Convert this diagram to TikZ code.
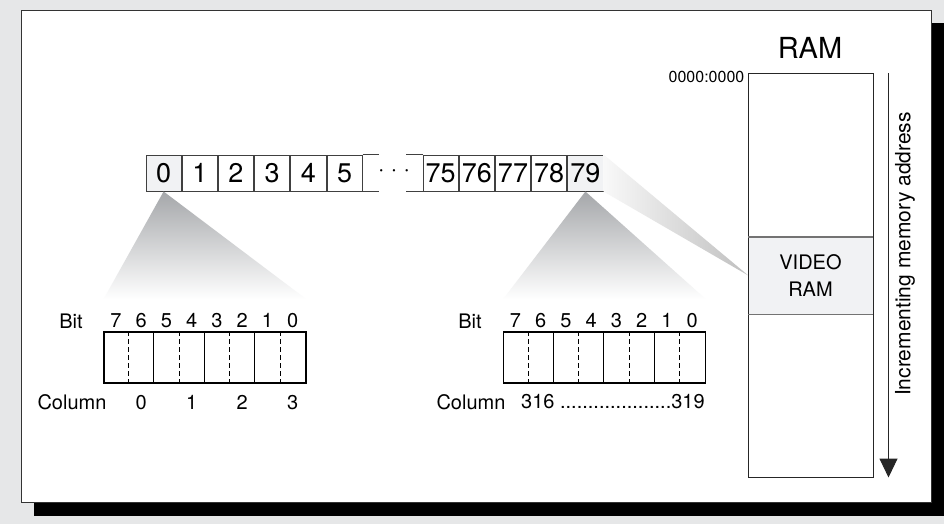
\documentclass[tikz,border=0pt]{standalone}
\usepackage{fontspec}
\setmainfont{TeX Gyre Heros}
\usepackage{tikz}
\usetikzlibrary{arrows.meta, positioning, calc}
\definecolor{pagegray}{RGB}{230,231,232}
\definecolor{cellgray}{RGB}{241,242,244}
\definecolor{shadegray}{RGB}{165,167,170}

\begin{document}
\begin{tikzpicture}[x=1pt, y=-1pt,
  cell/.style={rectangle, draw=black!75, line width=1pt, fill=white,
               minimum width=35.2, minimum height=36, inner sep=0pt,
               font=\fontsize{27}{32}\selectfont},
  bits/.style={rectangle, draw=black, line width=1.2pt,
               minimum width=202, minimum height=51, inner sep=0pt},
  lbl/.style={inner sep=0pt, font=\fontsize{20}{24}\selectfont},
  divider/.style={line width=1pt},
  halfdiv/.style={line width=0.7pt, dash pattern=on 5pt off 3pt},
  edge/.style={line width=1pt, draw=black!75},
]
\useasboundingbox (0,0) rectangle (944,524);
% PAGE
\fill[pagegray] (0,0) rectangle (944,524);
\fill[black] (34,23) rectangle (944,516);
\node[rectangle, fill=white, draw=black!80, line width=1pt, anchor=north west,
      minimum width=910, minimum height=492, inner sep=0pt] (panel) at (21,10) {};

% RAM
\node[draw=black!85, line width=1pt, minimum width=125, minimum height=403,
      inner sep=0pt] (ram) at (810.5,275.5) {};
\node[fill=cellgray, minimum width=124, minimum height=77, align=center,
      font=\fontsize{20}{27}\selectfont, inner sep=0pt] (vram) at (ram.center) {VIDEO\\RAM};
\draw[line width=1.4pt, draw=black!55] (vram.north west) -- (vram.north east)
  (vram.south west) -- (vram.south east);
\node[font=\fontsize{29}{34}\selectfont, inner sep=0pt] (ramtitle) at (810,48) {RAM};
\node[anchor=east, inner sep=0pt, font=\fontsize{16}{19}\selectfont] (addr)
  at ($(ram.north west)+(-3,3)$) {0000:0000};
\coordinate (arrtop) at ($(ram.north east)+(15,0)$);
\coordinate (arrend) at ($(ram.south east)+(15,0)$);
\draw[line width=1pt, draw=black!85, -{Triangle[width=18pt,length=19pt]}] (arrtop) -- (arrend);
\node[rotate=90, inner sep=0pt, font=\fontsize{21}{25}\selectfont] (incr)
  at (905,254) {Incrementing memory address};

% SCREEN ROW
\node[cell, fill=cellgray] (c0) at (163.6,173) {0};
\node[cell, right=0pt of c0] (c1) {1};
\node[cell, right=0pt of c1] (c2) {2};
\node[cell, right=0pt of c2] (c3) {3};
\node[cell, right=0pt of c3] (c4) {4};
\node[cell, right=0pt of c4] (c5) {5};
\draw[edge] (c5.north east) -- ++(16,0) (c5.south east) -- ++(16,0);
\node[font=\fontsize{23}{27}\selectfont, inner sep=0pt] (dots) at (394,173) {· · ·};
\node[cell, fill=cellgray] (c79) at (585.4,173) {79};
\node[cell, left=0pt of c79] (c78) {78};
\node[cell, left=0pt of c78] (c77) {77};
\node[cell, left=0pt of c77] (c76) {76};
\node[cell, left=0pt of c76] (c75) {75};
\draw[edge] (c75.north west) -- ++(-17,0) (c75.south west) -- ++(-17,0);

% BIT BOXES
\node[bits] (bits1) at (205,357.5) {};
\node[bits] (bits2) at (604.5,357.5) {};
\foreach \b in {bits1,bits2} {
  \foreach \k in {1,2,3}
    \draw[divider] ($(\b.north west)+(50.5*\k,0)$) -- ($(\b.south west)+(50.5*\k,0)$);
  \foreach \k in {0,1,2,3}
    \draw[halfdiv] ($(\b.north west)+(50.5*\k+25.25,0)$) -- ($(\b.south west)+(50.5*\k+25.25,0)$);
  \foreach \n [count=\k from 0] in {7,6,...,0}
    \node[lbl] (\b-bit\n) at ($(\b.north west)+(25.25*\k+12.6,-11)$) {\n};
}
\node[lbl] (bitlbl1) at (71,321) {Bit};
\node[lbl] (bitlbl2) at (470,321) {Bit};
\node[lbl] (col1) at (72,402) {Column};
\foreach \n [count=\k from 0] in {0,1,2,3}
  \node[lbl] (col1-\n) at ($(bits1.south west)+(50.5*\k+37.9,19)$) {\n};
\node[lbl] (col2) at (471,402) {Column};
\node[lbl, anchor=west] (col2-range) at (521,402) {316 ....................319};

% ZOOM WEDGES
\shade[top color=shadegray, bottom color=white]
  (c0.south) -- ($(bits1.north east)+(0,-32)$) -- ($(bits1.north west)+(0,-32)$) -- cycle;
\shade[top color=shadegray, bottom color=white]
  (c79.south) -- ($(bits2.north east)+(0,-32)$) -- ($(bits2.north west)+(0,-32)$) -- cycle;
\shade[left color=gray!5, right color=gray!50]
  (c79.north east) -- (vram.west) -- (c79.south east) -- cycle;
\end{tikzpicture}
\end{document}
